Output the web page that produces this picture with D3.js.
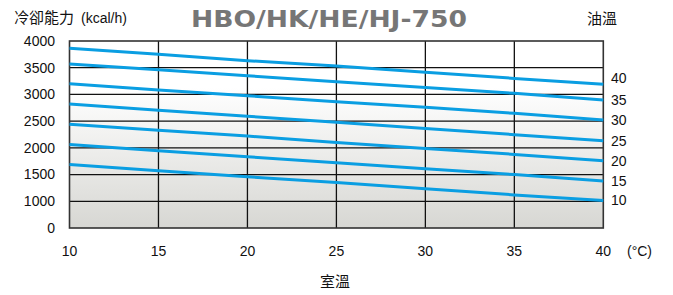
<!DOCTYPE html>
<html>
<head>
<meta charset="utf-8">
<script src="https://cdn.jsdelivr.net/npm/d3@7"></script>
<style>
  body { margin: 0; background: #fff; }
  svg { display: block; font-family: "Liberation Sans", Arial, sans-serif; }
  .cjk { font-family: "Noto Sans CJK TC", "Noto Sans CJK JP", sans-serif; }
</style>
</head>
<body>
<svg id="chart" width="673" height="295"></svg>
<script>
const roomTemps = [10, 15, 20, 25, 30, 35, 40];
const oilTemps = [40, 35, 30, 25, 20, 15, 10];
const capacity = [
    [3865, 3750, 3632, 3530, 3414, 3300, 3190],
    [3570, 3462, 3350, 3238, 3130, 3020, 2895],
    [3200, 3082, 2976, 2864, 2758, 2646, 2521],
    [2820, 2706, 2592, 2478, 2362, 2247, 2133],
    [2440, 2330, 2221, 2100, 1990, 1878, 1758],
    [2065, 1946, 1833, 1721, 1609, 1500, 1378],
    [1690, 1571, 1459, 1353, 1234, 1120, 1016]
];
const yTicks = [0, 1000, 1500, 2000, 2500, 3000, 3500, 4000];
const xTicks = [10, 15, 20, 25, 30, 35, 40];

const svg = d3.select("#chart");
const plotLeft = 69.5, plotRight = 603.3, plotTop = 41, plotBottom = 228;

const x = d3.scaleLinear().domain([10, 40]).range([plotLeft, plotRight]);
// axis is broken below 1000: the "0" sits one step under 1000
const y = d3.scaleLinear().domain([0, 1000, 4000]).range([plotBottom, 201.3, plotTop]);

const defs = svg.append("defs");
const grad = defs.append("linearGradient")
    .attr("id", "bg")
    .attr("x1", 0).attr("y1", 0).attr("x2", 0).attr("y2", 1);
grad.append("stop").attr("offset", "0%").attr("stop-color", "#ffffff");
grad.append("stop").attr("offset", "25%").attr("stop-color", "#ffffff");
grad.append("stop").attr("offset", "100%").attr("stop-color", "#d7d7d3");

svg.append("rect")
    .attr("x", plotLeft).attr("y", plotTop)
    .attr("width", plotRight - plotLeft).attr("height", plotBottom - plotTop)
    .attr("fill", "url(#bg)");

// grid
svg.append("g")
    .selectAll("line")
    .data(yTicks.slice(1, -1))
    .enter()
    .append("line")
    .attr("x1", plotLeft).attr("x2", plotRight)
    .attr("y1", (d) => y(d)).attr("y2", (d) => y(d))
    .attr("stroke", "#111").attr("stroke-width", 1.3);

svg.append("g")
    .selectAll("line")
    .data(xTicks.slice(1, -1))
    .enter()
    .append("line")
    .attr("x1", (d) => x(d)).attr("x2", (d) => x(d))
    .attr("y1", plotTop).attr("y2", plotBottom)
    .attr("stroke", "#111").attr("stroke-width", 1.3);

// frame
svg.append("rect")
    .attr("x", plotLeft).attr("y", plotTop)
    .attr("width", plotRight - plotLeft).attr("height", plotBottom - plotTop)
    .attr("fill", "none").attr("stroke", "#333").attr("stroke-width", 1.6);

// curves
const line = d3.line()
    .x((d, i) => x(roomTemps[i]))
    .y((d) => y(d));

svg.append("g")
    .selectAll("path")
    .data(capacity)
    .enter()
    .append("path")
    .attr("d", line)
    .attr("fill", "none")
    .attr("stroke", "#0a9ee2")
    .attr("stroke-width", 3);

// y labels
svg.append("g")
    .selectAll("text")
    .data(yTicks)
    .enter()
    .append("text")
    .attr("x", 55)
    .attr("y", (d) => y(d))
    .attr("dy", "0.35em")
    .attr("text-anchor", "end")
    .attr("font-size", 14)
    .attr("fill", "#111")
    .text((d) => d);

// x labels
svg.append("g")
    .selectAll("text")
    .data(xTicks)
    .enter()
    .append("text")
    .attr("x", (d) => x(d))
    .attr("y", 255.5)
    .attr("text-anchor", "middle")
    .attr("font-size", 14)
    .attr("fill", "#111")
    .text((d) => d);

svg.append("text")
    .attr("x", 627).attr("y", 255.5)
    .attr("font-size", 14).attr("fill", "#111")
    .text("(°C)");

// oil temperature labels at line ends
svg.append("g")
    .selectAll("text")
    .data(oilTemps)
    .enter()
    .append("text")
    .attr("x", 611)
    .attr("y", (d, i) => y(capacity[i][capacity[i].length - 1]) - (i === 0 ? 6 : 0))
    .attr("dy", "0.35em")
    .attr("font-size", 14)
    .attr("fill", "#111")
    .text((d) => d);

// titles
svg.append("text")
    .attr("class", "cjk")
    .attr("x", 14).attr("y", 23)
    .attr("font-size", 15).attr("fill", "#111")
    .text("冷卻能力");
svg.append("text")
    .attr("x", 81).attr("y", 23)
    .attr("font-size", 14).attr("fill", "#111")
    .text("(kcal/h)");

svg.append("text")
    .attr("x", 191).attr("y", 26.5)
    .attr("font-family", "'DejaVu Sans', sans-serif")
    .attr("font-size", 23).attr("font-weight", "bold")
    .attr("fill", "#767676")
    .attr("textLength", 276).attr("lengthAdjust", "spacingAndGlyphs")
    .text("HBO/HK/HE/HJ-750");

svg.append("text")
    .attr("class", "cjk")
    .attr("x", 587).attr("y", 24)
    .attr("font-size", 15).attr("fill", "#111")
    .text("油溫");

svg.append("text")
    .attr("class", "cjk")
    .attr("x", 335).attr("y", 287)
    .attr("text-anchor", "middle")
    .attr("font-size", 15).attr("fill", "#111")
    .text("室溫");
</script>
</body>
</html>
